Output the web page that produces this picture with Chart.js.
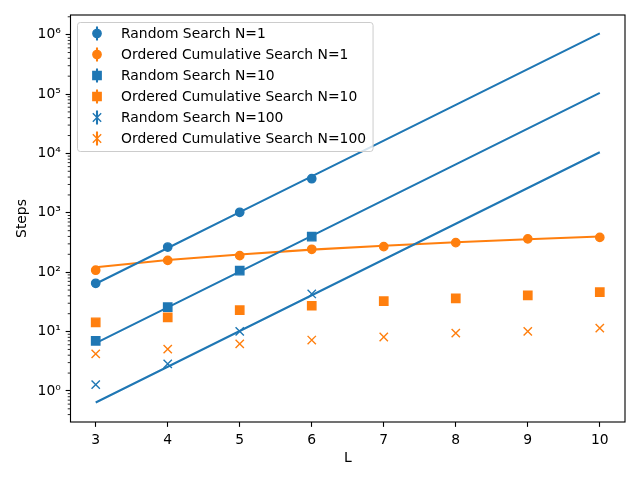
<!DOCTYPE html>
<html>
<head>
<meta charset="utf-8">
<script src="https://cdn.jsdelivr.net/npm/chart.js@4/dist/chart.umd.min.js"></script>
<style>
  html, body { margin: 0; padding: 0; background: #ffffff; }
  #wrap { width: 640px; height: 480px; }
</style>
</head>
<body>
<div id="wrap"><canvas id="c" width="640" height="480"></canvas></div>
<script>
// ---------- data ----------
const lengthsAll = [3, 4, 5, 6, 7, 8, 9, 10];
const lengthsRandom = [3, 4, 5, 6];

const randomN1 = [65, 265, 1020, 3750];
const randomN10 = [7.0, 25.8, 106, 396];
const randomN100 = [1.28, 2.85, 10.1, 43];

const orderedN1 = [108, 158, 190, 243, 269, 314, 364, 385];
const orderedN10 = [14.3, 17.4, 23.0, 27.2, 32.6, 36.1, 40.6, 46.2];
const orderedN100 = [4.2, 5.05, 6.2, 7.2, 8.1, 9.4, 10.1, 11.4];

const fitRandomN1 = [64, 256, 1024, 4096, 16384, 65536, 262144, 1048576];
const fitRandomN10 = [6.4, 25.6, 102.4, 409.6, 1638, 6554, 26214, 104858];
const fitRandomN100 = [0.64, 2.56, 10.24, 40.96, 163.8, 655.4, 2621, 10486];
const fitOrderedN1 = [121, 160, 199, 240, 279, 319, 359, 398];

const xTickValues = [3, 4, 5, 6, 7, 8, 9, 10];
const yMajorExponents = [0, 1, 2, 3, 4, 5, 6];

const labels = [
  'Random Search N=1',
  'Ordered Cumulative Search N=1',
  'Random Search N=10',
  'Ordered Cumulative Search N=10',
  'Random Search N=100',
  'Ordered Cumulative Search N=100'
];

// ---------- styling ----------
const BLUE = '#1f77b4';
const ORANGE = '#ff7f0e';
const PX = 100 / 72; // points -> pixels at 100 dpi
const FONT = 'DejaVu Sans';
const FS = 10 * PX;

const pts = (xs, ys) => xs.map((x, i) => ({ x: x, y: ys[i] }));

const markerStyle = {
  circle: { pointStyle: 'circle', pointRadius: 3 * PX },
  rect: { pointStyle: 'rect', pointRadius: 6 * PX / Math.SQRT2 },
  crossRot: { pointStyle: 'crossRot', pointRadius: 6 * PX / Math.SQRT2 }
};

function markerDataset(label, xs, ys, color, style) {
  return Object.assign({
    label: label,
    data: pts(xs, ys),
    showLine: false,
    backgroundColor: color,
    borderColor: color,
    pointBackgroundColor: color,
    pointBorderColor: color,
    pointBorderWidth: 1 * PX,
    inLegend: true,
    markerKind: style
  }, markerStyle[style]);
}

function lineDataset(xs, ys, color) {
  return {
    label: '',
    data: pts(xs, ys),
    showLine: true,
    borderColor: color,
    backgroundColor: color,
    borderWidth: 1.5 * PX,
    pointRadius: 0,
    tension: 0,
    fill: false,
    inLegend: false
  };
}

const superDigits = { '0': '\u2070', '1': '\u00b9', '2': '\u00b2', '3': '\u00b3', '4': '\u2074',
  '5': '\u2075', '6': '\u2076', '7': '\u2077', '8': '\u2078', '9': '\u2079', '-': '\u207b' };
const sup = (n) => String(n).split('').map(c => superDigits[c]).join('');

const isMajor = (v) => {
  const e = Math.log10(v);
  return Math.abs(e - Math.round(e)) < 1e-9;
};

const Y_MIN = Math.pow(10, -0.505);
const Y_MAX = Math.pow(10, 6.331);

// ---------- plugins ----------
const minorTickPlugin = {
  id: 'minorTicks',
  afterDatasetsDraw(chart) {
    const ctx = chart.ctx;
    const y = chart.scales.y;
    const area = chart.chartArea;
    ctx.save();
    ctx.strokeStyle = '#000000';
    ctx.lineWidth = 0.6 * PX;
    y.ticks.forEach(t => {
      if (isMajor(t.value)) return;
      const py = y.getPixelForValue(t.value);
      ctx.beginPath();
      ctx.moveTo(area.left, py);
      ctx.lineTo(area.left - 2 * PX, py);
      ctx.stroke();
    });
    // frame
    ctx.lineWidth = 0.8 * PX;
    ctx.strokeRect(area.left, area.top, area.right - area.left, area.bottom - area.top);
    ctx.restore();
  }
};

function drawMarker(ctx, kind, cx, cy, color) {
  ctx.save();
  ctx.fillStyle = color;
  ctx.strokeStyle = color;
  ctx.lineWidth = 1 * PX;
  const s = 6 * PX;
  ctx.beginPath();
  if (kind === 'circle') {
    ctx.arc(cx, cy, s / 2, 0, Math.PI * 2);
    ctx.fill();
    ctx.stroke();
  } else if (kind === 'rect') {
    ctx.rect(cx - s / 2, cy - s / 2, s, s);
    ctx.fill();
    ctx.stroke();
  } else {
    ctx.moveTo(cx - s / 2, cy - s / 2);
    ctx.lineTo(cx + s / 2, cy + s / 2);
    ctx.moveTo(cx - s / 2, cy + s / 2);
    ctx.lineTo(cx + s / 2, cy - s / 2);
    ctx.stroke();
  }
  ctx.restore();
}

const legendPlugin = {
  id: 'mplLegend',
  afterDraw(chart) {
    const ctx = chart.ctx;
    const area = chart.chartArea;
    const items = chart.data.datasets.filter(d => d.inLegend);
    ctx.save();
    ctx.font = FS + 'px "' + FONT + '"';
    const maxW = Math.max.apply(null, items.map(d => ctx.measureText(d.label).width));
    const x0 = area.left + 7;
    const y0 = area.top + 7.5;
    const rowH = 21;
    const textX = x0 + 43.5;
    const w = (textX - x0) + maxW + 7;
    const h = items.length * rowH + 3;
    const r = 2.8;
    ctx.beginPath();
    ctx.moveTo(x0 + r, y0);
    ctx.lineTo(x0 + w - r, y0);
    ctx.arcTo(x0 + w, y0, x0 + w, y0 + r, r);
    ctx.lineTo(x0 + w, y0 + h - r);
    ctx.arcTo(x0 + w, y0 + h, x0 + w - r, y0 + h, r);
    ctx.lineTo(x0 + r, y0 + h);
    ctx.arcTo(x0, y0 + h, x0, y0 + h - r, r);
    ctx.lineTo(x0, y0 + r);
    ctx.arcTo(x0, y0, x0 + r, y0, r);
    ctx.closePath();
    ctx.fillStyle = 'rgba(255,255,255,0.8)';
    ctx.fill();
    ctx.strokeStyle = '#cccccc';
    ctx.lineWidth = 1;
    ctx.stroke();

    items.forEach((d, i) => {
      const cy = y0 + 11 + rowH * i;
      const cx = x0 + 19.5;
      ctx.strokeStyle = d.borderColor;
      ctx.lineWidth = 1.5 * PX;
      ctx.beginPath();
      ctx.moveTo(cx, cy - 7);
      ctx.lineTo(cx, cy + 7);
      ctx.stroke();
      drawMarker(ctx, d.markerKind, cx, cy, d.borderColor);
      ctx.fillStyle = '#000000';
      ctx.textAlign = 'left';
      ctx.textBaseline = 'middle';
      ctx.fillText(d.label, textX, cy + 0.5);
    });
    ctx.restore();
  }
};

// ---------- chart ----------
Chart.defaults.font.family = FONT;
Chart.defaults.font.size = FS;
Chart.defaults.color = '#000000';

const datasets = [
  markerDataset(labels[0], lengthsRandom, randomN1, BLUE, 'circle'),
  markerDataset(labels[1], lengthsAll, orderedN1, ORANGE, 'circle'),
  markerDataset(labels[2], lengthsRandom, randomN10, BLUE, 'rect'),
  markerDataset(labels[3], lengthsAll, orderedN10, ORANGE, 'rect'),
  markerDataset(labels[4], lengthsRandom, randomN100, BLUE, 'crossRot'),
  markerDataset(labels[5], lengthsAll, orderedN100, ORANGE, 'crossRot'),
  lineDataset(lengthsAll, fitRandomN1, BLUE),
  lineDataset(lengthsAll, fitRandomN10, BLUE),
  lineDataset(lengthsAll, fitRandomN100, BLUE),
  lineDataset(lengthsAll, fitOrderedN1, ORANGE)
];

new Chart(document.getElementById('c'), {
  type: 'scatter',
  data: { datasets: datasets },
  options: {
    responsive: false,
    devicePixelRatio: 1,
    animation: false,
    events: [],
    layout: { padding: { left: 0, right: 15, top: 15, bottom: 0 } },
    plugins: {
      legend: { display: false },
      tooltip: { enabled: false }
    },
    scales: {
      x: {
        type: 'linear',
        min: 2.65,
        max: 10.35,
        afterBuildTicks(scale) {
          scale.ticks = xTickValues.map(v => ({ value: v }));
        },
        afterFit(scale) { scale.height = 58; },
        ticks: {
          autoSkip: false,
          maxRotation: 0,
          padding: 3.5 * PX,
          color: '#000000',
          font: { size: FS, family: FONT },
          callback: (v) => String(v)
        },
        grid: {
          display: true,
          drawOnChartArea: false,
          drawTicks: true,
          tickLength: 3.5 * PX,
          tickWidth: 0.8 * PX,
          tickColor: '#000000'
        },
        border: { display: false },
        title: {
          display: true,
          text: 'L',
          color: '#000000',
          font: { size: FS, family: FONT },
          padding: { top: 0, bottom: 13.5 }
        }
      },
      y: {
        type: 'logarithmic',
        min: Y_MIN,
        max: Y_MAX,
        afterBuildTicks(scale) {
          const t = [];
          for (let k = -1; k <= 6; k++) {
            for (let m = 1; m <= 9; m++) {
              const v = m * Math.pow(10, k);
              if (v >= Y_MIN && v <= Y_MAX) t.push({ value: v, major: m === 1 });
            }
          }
          scale.ticks = t;
        },
        afterFit(scale) { scale.width = 70.5; },
        ticks: {
          autoSkip: false,
          padding: 3.5 * PX,
          color: '#000000',
          font: { size: FS, family: FONT },
          callback: (v) => {
            if (!isMajor(v)) return '';
            const e = Math.round(Math.log10(v));
            return yMajorExponents.includes(e) ? '10' + sup(e) : '';
          }
        },
        grid: {
          display: true,
          drawOnChartArea: false,
          drawTicks: true,
          tickLength: 3.5 * PX,
          tickWidth: 0.8 * PX,
          tickColor: (c) => (c.tick && isMajor(c.tick.value)) ? '#000000' : 'rgba(0,0,0,0)'
        },
        border: { display: false },
        title: {
          display: true,
          text: 'Steps',
          color: '#000000',
          font: { size: FS, family: FONT },
          padding: { top: 14, bottom: 0 }
        }
      }
    }
  },
  plugins: [minorTickPlugin, legendPlugin]
});
</script>
</body>
</html>
